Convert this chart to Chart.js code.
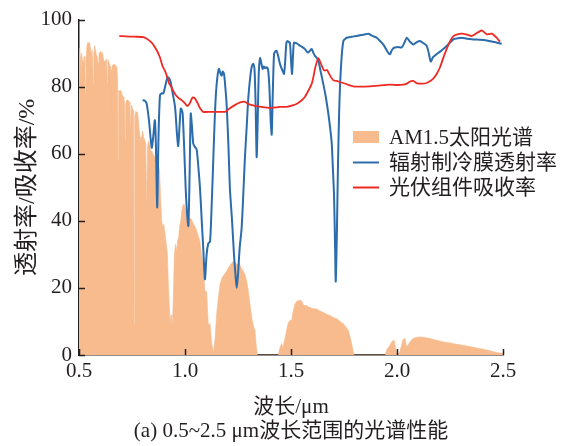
<!DOCTYPE html>
<html>
<head>
<meta charset="utf-8">
<script src="https://cdn.jsdelivr.net/npm/chart.js@4.4.1/dist/chart.umd.min.js"></script>
<style>
  html, body { margin: 0; padding: 0; background: #ffffff; }
  #wrap { width: 567px; height: 446px; position: relative; }
</style>
</head>
<body>
<div id="wrap"><canvas id="c" width="567" height="446"></canvas></div>
<script>
// ---------- data ----------
const seriesNames = ['AM1.5太阳光谱', '辐射制冷膜透射率', '光伏组件吸收率'];
const xTickLabels = ['0.5', '1.0', '1.5', '2.0', '2.5'];
const yTickValues = [0, 20, 40, 60, 80, 100];
const xTitle = '波长/μm';
const caption = '(a) 0.5~2.5 μm波长范围的光谱性能';
const yTitle = '透射率/吸收率/%';

// AM1.5 solar spectrum (scaled, %)
const solarWl = [0.500,0.503,0.506,0.509,0.512,0.516,0.520,0.524,0.528,0.530,0.533,0.537,0.541,0.545,0.549,0.553,0.557,0.561,0.564,0.567,
0.570,0.574,0.578,0.582,0.586,0.590,0.594,0.598,0.602,0.606,0.610,0.614,0.618,0.622,0.626,0.630,0.633,0.636,0.640,0.644,
0.647,0.649,0.651,0.655,0.660,0.665,0.670,0.675,0.679,0.682,0.684,0.687,0.691,0.695,0.700,0.704,0.708,0.712,0.715,0.717,
0.720,0.725,0.731,0.736,0.740,0.743,0.746,0.750,0.755,0.758,0.760,0.763,0.768,0.772,0.776,0.780,0.784,0.788,0.792,0.796,
0.800,0.805,0.810,0.815,0.819,0.823,0.828,0.833,0.838,0.843,0.848,0.853,0.858,0.863,0.866,0.869,0.874,0.880,0.885,0.890,
0.895,0.900,0.906,0.912,0.917,0.922,0.926,0.930,0.934,0.938,0.942,0.946,0.950,0.955,0.960,0.965,0.970,0.975,0.980,0.985,
0.990,0.995,1.000,1.005,1.010,1.015,1.020,1.030,1.040,1.050,1.060,1.070,1.078,1.086,1.094,1.102,1.110,1.118,1.126,1.134,
1.142,1.149,1.157,1.165,1.175,1.185,1.197,1.205,1.215,1.222,1.230,1.237,1.245,1.255,1.265,1.275,1.283,1.291,1.299,1.307,
1.315,1.323,1.330,1.336,1.341,1.440,1.445,1.450,1.456,1.462,1.468,1.475,1.481,1.487,1.495,1.503,1.510,1.519,1.527,1.534,
1.542,1.550,1.558,1.566,1.574,1.582,1.590,1.600,1.610,1.621,1.632,1.642,1.652,1.664,1.674,1.684,1.695,1.705,1.716,1.726,
1.737,1.747,1.757,1.765,1.770,1.778,1.786,1.792,1.797,1.945,1.951,1.960,1.970,1.975,1.983,1.987,1.992,1.999,2.011,2.020,
2.027,2.033,2.038,2.044,2.050,2.061,2.070,2.077,2.090,2.108,2.130,2.156,2.180,2.200,2.219,2.250,2.281,2.310,2.344,2.375,
2.407,2.430,2.454,2.475,2.500];
const solarVal = [90,91.5,89,80,90,88,87,89,86,78,88,92,93.2,93,93.3,92,90,91,89,81,
90,92.2,91,89.4,89,87,89.4,90.3,90.5,90,90.3,89,87.4,87.5,88,88.2,81,88,87.5,86.9,
86,73.6,85,86,86.5,86.8,86.5,86,85,82,58,79,78.5,79,78.5,77.5,77,76.6,75,64,
75,76,76,75.5,75,66,74.6,74,73,72,9.5,71,72.6,72.5,72.2,70,66.8,65,63.8,65,
66.8,65,64,63,41.8,62,63.8,63,61,60.8,60,59.5,59,58.9,44,57,57,55,47,40,
38,39,36,33,30,20,14,9.3,12,8.3,11,20,30,33,31,34,35,38.5,40,43,
44.5,45,44,42.5,43,42,41,40.5,39,38,36,34,30,27,19,19,9,9.3,3.4,0.6,
5,12,17,21,23,24,25,26,27,27.5,28,27.5,27,27.5,26,25,24,22,19,15,
11,8.5,7.4,3,0,0,1.5,2.5,3.4,2,4,6,8,9.5,10.3,10.3,13,15.2,16,16.2,
16.3,16.2,15,14.7,14.8,14.2,14.2,13.9,13.8,13.7,13.3,13,12.7,12.3,12,11.8,11.4,11,10.8,10.3,
9.8,9.3,8.5,7.8,7.4,5.5,3.4,1.5,0,0,1.5,2.2,3.3,3.9,4.4,4.4,2.5,0.5,0.5,2.5,
4.4,4.9,4.9,2.8,2.7,3.9,4.6,4.9,5.2,5.4,5.2,4.9,4.5,4.2,3.9,3.6,3.2,2.9,2.5,2.1,
1.7,1.4,1.0,0.7,0.5];

// radiative cooling film transmittance (%)
const filmWl = [0.800,0.810,0.819,0.830,0.843,0.850,0.858,0.863,0.869,0.875,0.882,0.890,0.898,0.908,0.918,0.925,0.932,0.942,0.953,0.962,
0.968,0.974,0.980,0.985,0.989,0.996,1.003,1.010,1.016,1.022,1.027,1.033,1.039,1.047,1.055,1.063,1.071,1.079,1.086,1.094,
1.102,1.110,1.118,1.126,1.134,1.140,1.146,1.153,1.160,1.167,1.173,1.178,1.184,1.190,1.197,1.205,1.212,1.222,1.231,1.238,
1.244,1.250,1.258,1.267,1.275,1.283,1.291,1.299,1.308,1.315,1.322,1.328,1.333,1.338,1.343,1.348,1.354,1.360,1.366,1.372,
1.378,1.385,1.392,1.398,1.404,1.409,1.414,1.420,1.426,1.432,1.440,1.448,1.455,1.462,1.467,1.472,1.478,1.483,1.490,1.495,
1.500,1.505,1.510,1.514,1.522,1.530,1.542,1.554,1.566,1.574,1.582,1.590,1.598,1.606,1.613,1.621,1.629,1.640,1.652,1.664,
1.676,1.684,1.692,1.698,1.703,1.708,1.711,1.716,1.722,1.727,1.731,1.739,1.747,1.755,1.763,1.780,1.795,1.810,1.830,1.850,
1.865,1.880,1.890,1.904,1.920,1.935,1.950,1.960,1.967,1.975,1.984,1.991,2.005,2.022,2.034,2.046,2.060,2.077,2.092,2.108,
2.124,2.140,2.150,2.159,2.170,2.187,2.200,2.218,2.240,2.266,2.285,2.305,2.330,2.360,2.390,2.423,2.460,2.494];
const filmVal = [76,75.8,75,70,61.8,65,70,62,44,65,77.4,78,78,80.5,82.8,82.5,81.4,78,74,66,
62.3,68,73.5,73,72,62,50,42,38.5,55,72,68,63,62,61.3,56,49.5,40,31.9,22.6,
30,33.3,33.8,45,59.4,70,78,83,85.3,84,83.3,84.5,83.8,80,74,62,49.5,40,30,24,
20,24,32,37.7,48,59.3,68,77,83,86,86.8,85,75,59,70,84,88.5,87,85.3,86,
85.5,85.8,85,80,70,65.7,78,89.7,90.5,90.7,89,86.8,85.5,84.5,83.8,87,93,93.6,93.3,93.1,
88,83.8,90,93.1,93,92.8,92.2,91.8,91.2,90.5,90.2,90.8,91.2,90,89.2,88.6,87.8,84.5,80.9,77,
72,68,63.2,55,47.6,32,21.9,35,58,72,79.9,89,93.6,94.2,94.6,94.8,95,95.1,95.4,95.6,
95.8,95.3,95,94.6,93.6,92.6,91,90,89.7,90.8,91.5,91.7,91.8,91.7,93,94.6,93.5,92.6,93.2,93.6,
93,92.2,90,87.5,88.8,89.7,90.3,91.2,92.5,94.1,94.4,94.6,94.3,94.1,94,93.8,93.3,92.8];

// PV module absorptance (%)
const pvWl = [0.690,0.720,0.760,0.803,0.820,0.835,0.850,0.865,0.875,0.882,0.895,0.905,0.914,0.925,0.935,0.945,0.955,0.970,0.984,1.000,
1.011,1.022,1.036,1.047,1.060,1.072,1.086,1.120,1.160,1.189,1.210,1.235,1.260,1.283,1.300,1.330,1.360,1.401,1.430,1.448,
1.480,1.511,1.530,1.542,1.555,1.566,1.574,1.586,1.598,1.606,1.613,1.621,1.629,1.637,1.645,1.652,1.660,1.670,1.680,1.690,
1.700,1.715,1.731,1.760,1.794,1.830,1.873,1.910,1.967,2.000,2.030,2.046,2.060,2.077,2.095,2.120,2.140,2.155,2.171,2.187,
2.203,2.218,2.234,2.250,2.266,2.285,2.305,2.330,2.352,2.365,2.376,2.390,2.400,2.412,2.423,2.435,2.447,2.460,2.470,2.480,2.486];
const pvVal = [95.1,95,94.9,94.8,94.3,93.6,92.6,91,89.8,88.7,86,84.8,83.3,81,80,78.7,77.6,76.6,76,75,
74.2,75,76.8,76.5,75,73.5,72.5,72.5,72.5,72.5,73.5,74.5,75.3,75.5,74.8,74.3,74,73.7,73.8,74,
74,74.5,75,75.5,76.2,77,77.9,79.3,80.9,83,85.3,87.2,88.5,87.5,86.3,85.2,84.8,85,83.8,82.7,
81.9,81.7,81.4,80.8,80.1,80,80.1,80.3,80.6,80.5,80.6,80.9,81.5,81.7,81,80.9,81.1,81.6,82.4,83.8,
85.8,88.5,91.2,93.5,95.1,95.6,95.8,95.5,95.1,95.5,96,96.5,96.8,96.2,95.6,95.7,95.8,95.2,94.6,93.8,93.4];

// ---------- styling ----------
const SERIF = "'Liberation Serif', 'Times New Roman', 'Noto Sans CJK SC', serif";
const TXT = '#231f20';
const ORANGE = 'rgb(247,187,141)';
const BLUE = 'rgb(44,108,172)';
const RED = 'rgb(238,42,36)';

function pairs(xs, ys) { return xs.map((x, i) => ({ x: x, y: ys[i] })); }

const inwardTicks = {
  id: 'inwardTicks',
  afterDatasetsDraw(chart) {
    const { ctx, chartArea, scales } = chart;
    ctx.save();
    ctx.strokeStyle = TXT;
    ctx.lineWidth = 1.5;
    const len = 6;
    yTickValues.forEach(v => {
      const y = Math.round(scales.y.getPixelForValue(v)) + 0.5;
      ctx.beginPath();
      ctx.moveTo(chartArea.left, y);
      ctx.lineTo(chartArea.left + len, y);
      ctx.stroke();
    });
    xTickLabels.forEach(t => {
      const x = Math.round(scales.x.getPixelForValue(parseFloat(t))) + 0.5;
      ctx.beginPath();
      ctx.moveTo(x, chartArea.bottom);
      ctx.lineTo(x, chartArea.bottom - len);
      ctx.stroke();
    });
    ctx.restore();
  }
};

const customLegend = {
  id: 'customLegend',
  afterDraw(chart) {
    const { ctx } = chart;
    const x0 = 353, w = 26, tx = 389;
    const ys = [137, 162, 187];
    ctx.save();
    ctx.font = "21px " + SERIF;
    ctx.textBaseline = 'middle';
    ctx.textAlign = 'left';
    chart.data.datasets.forEach((ds, i) => {
      const y = ys[i];
      if (i === 0) {
        ctx.fillStyle = ds.backgroundColor;
        ctx.fillRect(x0, y - 6, w, 12);
      } else {
        ctx.strokeStyle = ds.borderColor;
        ctx.lineWidth = 2;
        ctx.beginPath();
        ctx.moveTo(x0, y + 0.5);
        ctx.lineTo(x0 + w, y + 0.5);
        ctx.stroke();
      }
      ctx.fillStyle = TXT;
      ctx.fillText(ds.label, tx, y + 1);
    });
    ctx.restore();
  }
};

new Chart(document.getElementById('c'), {
  type: 'line',
  data: {
    datasets: [
      { label: seriesNames[0], data: pairs(solarWl, solarVal), fill: 'origin',
        backgroundColor: ORANGE, borderColor: ORANGE, borderWidth: 0.6,
        pointRadius: 0, tension: 0, order: 3 },
      { label: seriesNames[1], data: pairs(filmWl, filmVal), fill: false,
        borderColor: BLUE, backgroundColor: BLUE, borderWidth: 2,
        pointRadius: 0, tension: 0.25, order: 2 },
      { label: seriesNames[2], data: pairs(pvWl, pvVal), fill: false,
        borderColor: RED, backgroundColor: RED, borderWidth: 1.8,
        pointRadius: 0, tension: 0.2, order: 1 }
    ]
  },
  options: {
    responsive: false,
    animation: false,
    devicePixelRatio: 1,
    layout: { padding: { left: 0, right: 64, top: 15, bottom: 0 } },
    plugins: { legend: { display: false }, tooltip: { enabled: false }, title: { display: false } },
    scales: {
      x: {
        type: 'linear', min: 0.5, max: 2.5,
        afterFit(s) { s.height = 91; },
        afterBuildTicks(s) { s.ticks = xTickLabels.map(t => ({ value: parseFloat(t) })); },
        ticks: { color: TXT, font: { family: SERIF, size: 21 }, padding: 4,
                 maxRotation: 0, autoSkip: false,
                 callback: (v) => { const i = xTickLabels.findIndex(t => Math.abs(parseFloat(t) - v) < 1e-6); return i >= 0 ? xTickLabels[i] : ''; } },
        grid: { display: true, drawOnChartArea: false, drawTicks: false },
        border: { display: true, color: TXT, width: 1.5 },
        title: { display: true, text: [xTitle, caption], color: TXT,
                 font: { family: SERIF, size: 21, lineHeight: 1.15 }, padding: { top: 0, bottom: 2 } }
      },
      y: {
        type: 'linear', min: 0, max: 100,
        afterFit(s) { s.width = 79; },
        afterBuildTicks(s) { s.ticks = yTickValues.map(v => ({ value: v })); },
        ticks: { color: TXT, font: { family: SERIF, size: 21 }, padding: 7, autoSkip: false },
        grid: { display: true, drawOnChartArea: false, drawTicks: false },
        border: { display: true, color: TXT, width: 1.5 },
        title: { display: true, text: yTitle, color: TXT,
                 font: { family: SERIF, size: 24, lineHeight: 1.2 }, padding: { top: 13, bottom: 0 } }
      }
    }
  },
  plugins: [inwardTicks, customLegend]
});
</script>
</body>
</html>
